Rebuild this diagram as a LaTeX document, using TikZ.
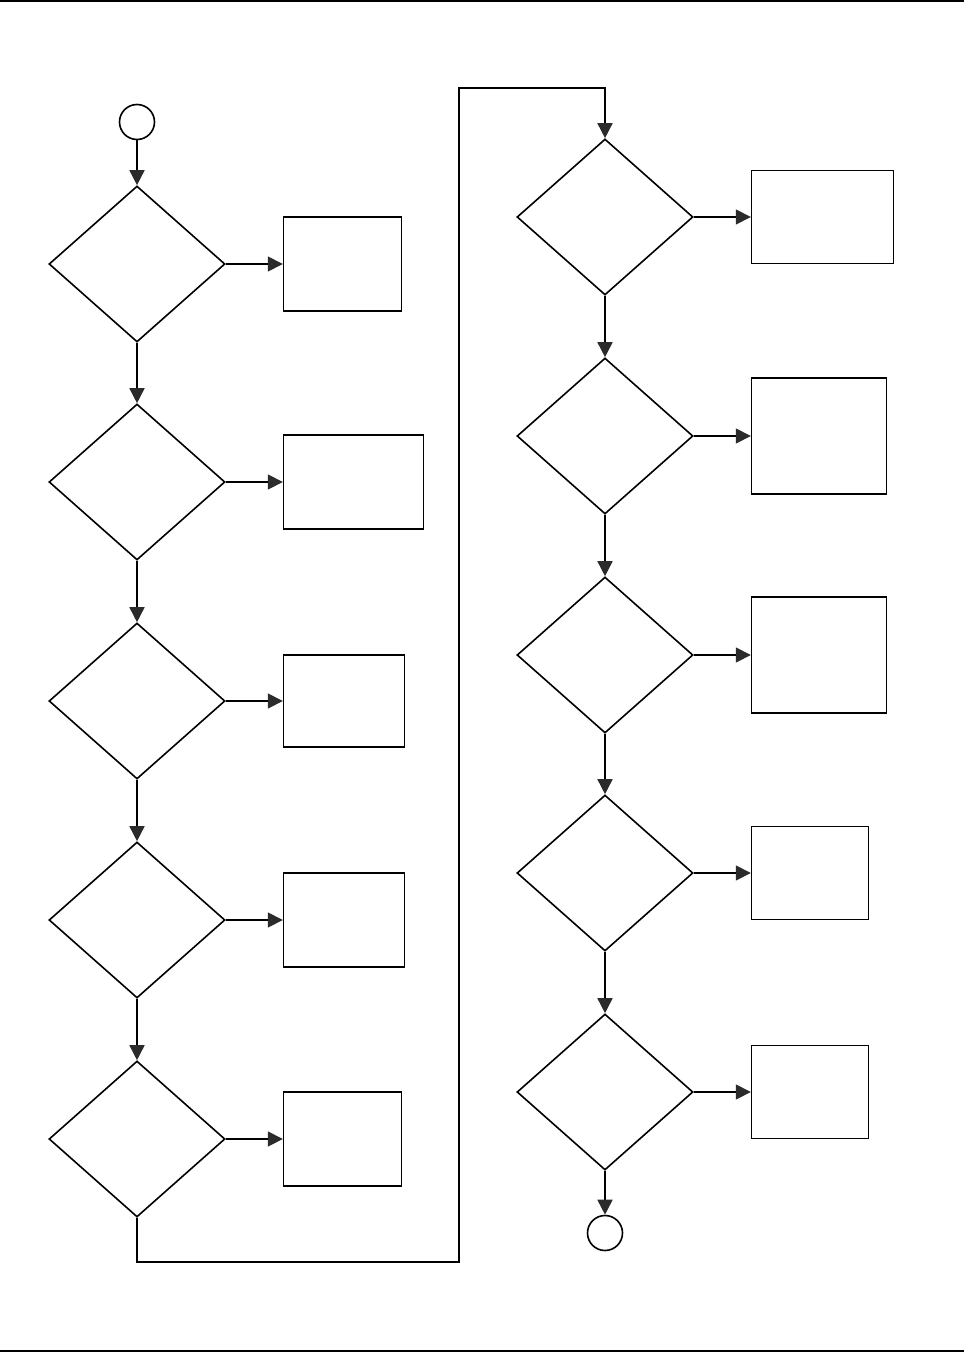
\documentclass[tikz,border=0pt]{standalone}
\usetikzlibrary{shapes.geometric,positioning,arrows.meta}
\definecolor{tipgray}{HTML}{2B2B2B}
\begin{document}
\begin{tikzpicture}[x=1pt, y=-1pt, -{Triangle[length=15pt,width=15pt,fill=tipgray,color=tipgray]}, line width=1.6pt, node distance=57pt,
  decision/.style={diamond, draw, inner sep=0pt, minimum width=176pt, minimum height=156pt},
  action/.style={rectangle, draw, inner sep=0pt},
  terminal/.style={circle, draw, inner sep=0pt, minimum size=35pt}]
  \useasboundingbox (0,0) rectangle (964,1352);
  \draw[-, line width=2pt] (0,1) -- (964,1);
  \draw[-, line width=2pt] (0,1351) -- (964,1351);

  % left column
  \node[terminal] (start) at (137,122) {};
  \node[decision] (d1) at (137,264) {};
  \node[decision] (d2) at (137,482) {};
  \node[decision] (d3) at (137,701) {};
  \node[decision] (d4) at (137,920) {};
  \node[decision] (d5) at (137,1139) {};
  \node[action, minimum width=118pt, minimum height=94pt] (a1) [right=of d1] {};
  \node[action, minimum width=140pt, minimum height=94pt] (a2) [right=of d2] {};
  \node[action, minimum width=121pt, minimum height=92pt] (a3) [right=of d3] {};
  \node[action, minimum width=121pt, minimum height=94pt] (a4) [right=of d4] {};
  \node[action, minimum width=118pt, minimum height=94pt] (a5) [right=of d5] {};

  % right column
  \node[decision] (d6) at (605,217) {};
  \node[decision] (d7) at (605,436) {};
  \node[decision] (d8) at (605,655) {};
  \node[decision] (d9) at (605,873) {};
  \node[decision] (d10) at (605,1092) {};
  \node[terminal] (stop) at (605,1233) {};
  \node[action, minimum width=142pt, minimum height=93pt] (a6) [right=of d6] {};
  \node[action, minimum width=135pt, minimum height=116pt] (a7) [right=of d7] {};
  \node[action, minimum width=135pt, minimum height=116pt] (a8) [right=of d8] {};
  \node[action, minimum width=117pt, minimum height=93pt] (a9) [right=of d9] {};
  \node[action, minimum width=117pt, minimum height=93pt] (a10) [right=of d10] {};

  \coordinate (low) at (459,1262);
  \coordinate (high) at (459,88);

  \path (start) edge (d1)
        (d1) edge (d2) edge (a1)
        (d2) edge (d3) edge (a2)
        (d3) edge (d4) edge (a3)
        (d4) edge (d5) edge (a4)
        (d5) edge (a5);
  \draw (d5) |- (low) -- (high) -| (d6);
  \path (d6) edge (d7) edge (a6)
        (d7) edge (d8) edge (a7)
        (d8) edge (d9) edge (a8)
        (d9) edge (d10) edge (a9)
        (d10) edge (stop) edge (a10);
\end{tikzpicture}
\end{document}
